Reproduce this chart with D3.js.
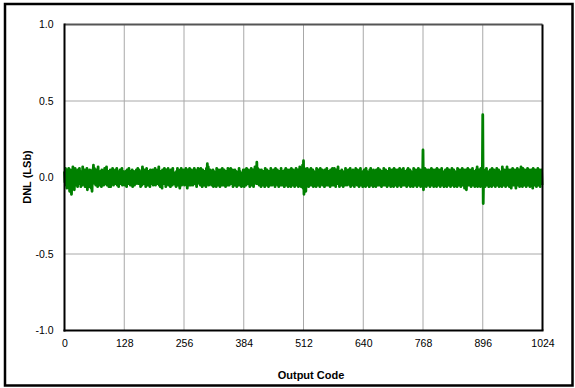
<!DOCTYPE html>
<html><head><meta charset="utf-8">
<script src="https://cdn.jsdelivr.net/npm/d3@7"></script>
<style>body{margin:0;background:#fff;}svg{display:block;font-family:"Liberation Sans",Arial,sans-serif;}</style>
</head><body>
<svg id="c" width="575" height="388"></svg>
<script>
const xTicks = [0,128,256,384,512,640,768,896,1024];
const yTicks = [-1.0,-0.5,0.0,0.5,1.0];
const xTitle = "Output Code";
const yTitle = "DNL (LSb)";
// DNL per output code 0..1023 (LSb)
const dnl = [
.04,-.03,.06,-.05,.02,-.07,.05,.01,-.04,.06,-.02,-.09,.03,.05,-.06,-.11,.02,-.05,.07,-.04,.05,-.08,.01,.06,-.03,-.05,.04,.02,-.06,.05,-.01,-.04,
.06,-.02,.03,-.06,.04,.01,-.05,.07,-.03,.02,-.04,.05,-.06,.03,.01,-.05,.06,-.08,.02,.04,-.03,-.06,.05,-.02,.03,-.07,.04,-.09,.05,.02,.08,-.03,
.06,-.04,.02,-.05,.05,-.01,.03,-.06,.07,-.04,.01,.03,-.05,.04,-.02,-.06,.05,.02,-.03,.04,-.05,.01,.06,-.04,.02,-.03,.07,-.05,.03,-.02,.04,-.06,
.02,-.03,.05,-.06,.04,.01,-.04,.06,-.03,-.05,.03,.02,-.04,.05,-.02,-.03,.06,-.05,.02,.03,-.06,.04,-.01,.05,-.04,.02,-.03,.06,-.05,.01,.04,-.03,
.03,-.05,.02,.04,-.03,-.06,.05,-.01,.03,-.04,.06,-.02,.01,-.05,.04,.02,-.03,.05,-.06,.03,-.01,.04,-.05,.02,.03,-.04,.05,-.02,-.03,.06,-.04,.02,
.05,-.03,.04,-.06,.01,.03,-.05,.07,-.02,.02,-.04,.05,-.03,.01,-.06,.04,.06,-.03,.02,-.05,.04,-.02,.03,-.06,.05,.01,-.04,.03,-.02,.05,-.05,.02,
.04,-.02,.06,-.05,.03,.01,-.04,.05,-.03,-.02,.07,-.05,.02,-.06,.04,.02,-.03,-.07,.05,-.01,.03,-.04,.06,-.03,.02,-.06,.05,.01,-.04,.03,.06,-.05,
.03,.01,-.04,-.06,.05,-.02,.04,-.05,.06,-.03,.01,-.04,.03,.02,-.05,-.06,.04,-.01,.06,-.05,.02,.03,-.04,-.07,.05,-.02,.06,-.05,.03,.01,-.04,.05,
.04,-.05,.02,-.02,.06,-.04,.01,-.07,.05,-.03,.03,-.05,.06,.02,-.04,-.05,.05,-.01,.04,-.05,.02,-.03,.06,-.04,.05,.01,-.03,-.06,.03,-.04,.06,-.02,
.05,-.03,.02,-.05,.06,.01,-.04,-.06,.05,-.02,.03,-.05,.04,.02,-.03,-.06,.06,-.04,.09,-.03,.07,-.05,.03,-.04,.05,.01,-.03,-.05,.04,-.02,.05,-.06,
.04,.01,-.04,-.05,.03,-.06,.06,-.02,.04,-.05,.05,.01,-.03,-.06,.05,-.02,.04,-.05,.06,-.03,.01,-.05,.05,-.02,.03,-.06,.04,.02,-.03,-.05,.06,-.01,
.05,-.05,.03,-.02,.06,-.04,.01,-.03,.05,-.06,.03,.02,-.04,.05,-.05,.01,.04,-.06,.03,-.02,.02,-.05,.06,-.03,.04,-.05,.03,-.06,.02,.01,-.04,.05,
.03,-.06,.05,-.02,.01,-.05,.06,-.03,.04,-.04,.05,.01,-.03,-.06,.04,-.02,.06,-.05,.03,-.02,.05,-.06,.04,-.03,.07,-.02,.05,-.04,.10,-.04,.06,-.03,
.04,-.05,.05,-.02,.01,-.06,.05,-.03,.03,-.05,.04,.02,-.04,-.06,.06,-.02,.03,-.05,.05,.01,-.03,-.06,.04,-.02,.02,-.05,.06,-.03,.03,-.05,.04,.01,
.05,-.04,.03,-.06,.06,-.03,.01,-.04,.05,-.05,.02,-.06,.04,.01,-.03,-.05,.06,-.02,.03,-.05,.04,.01,-.04,-.06,.05,-.03,.06,-.05,.02,-.02,.05,-.06,
.04,-.02,.05,-.05,.01,-.06,.06,-.03,.03,-.05,.05,.02,-.03,-.06,.04,-.02,.06,-.05,.03,-.01,.05,-.06,.04,-.03,.07,-.05,.04,-.06,.05,-.02,.08,-.07,
.11,-.11,.06,-.04,.03,-.09,.05,-.02,.06,-.05,.02,-.06,.05,.01,-.03,-.05,.06,-.03,.02,-.05,.05,-.06,.04,.01,-.03,-.05,.03,-.06,.06,-.02,.04,-.05,
.05,-.03,.02,-.06,.06,-.04,.01,-.03,.05,-.05,.03,.02,-.04,-.06,.05,-.02,.04,-.05,.06,.01,-.03,-.05,.04,-.03,.02,-.06,.05,-.02,.04,-.05,.06,-.01,
.03,-.05,.06,-.02,.01,-.06,.05,-.03,.04,-.04,.07,-.03,.02,-.06,.04,.01,-.03,-.05,.05,-.02,.04,-.06,.03,.02,-.04,-.05,.06,-.03,.03,-.05,.04,-.02,
.05,-.04,.02,-.05,.06,-.06,.03,.01,-.04,-.05,.05,-.03,.04,-.06,.02,.01,.06,-.04,.03,-.05,.05,-.02,.01,-.06,.04,-.03,.06,-.05,.02,.01,-.04,-.06,
.04,-.02,.05,-.05,.01,-.06,.06,-.03,.04,-.05,.03,.02,-.04,-.06,.05,-.02,.06,-.05,.03,.01,-.03,-.06,.05,-.02,.04,-.05,.02,-.06,.05,-.03,.03,-.05,
.06,-.03,.02,-.05,.05,.01,-.03,-.06,.04,-.02,.03,-.05,.06,-.03,.01,-.05,.05,-.04,.02,-.06,.04,.01,-.03,-.05,.06,-.02,.05,-.06,.03,-.04,.05,-.05,
.02,-.06,.06,-.03,.04,-.05,.05,.01,-.03,-.06,.05,-.02,.03,-.05,.06,-.01,.04,-.06,.05,-.03,.01,-.05,.06,-.02,.03,-.05,.04,.02,-.03,-.06,.05,-.03,
.06,-.05,.03,-.01,.05,-.06,.04,-.02,.03,-.05,.02,-.06,.06,-.03,.04,-.05,.05,.01,-.03,-.06,.05,-.02,.06,-.05,.03,-.01,.05,-.06,.04,-.03,.05,-.04,
.18,-.08,.04,-.05,.06,-.03,.02,-.06,.05,-.02,.03,-.05,.05,.01,-.03,-.06,.05,-.03,.06,-.05,.02,-.03,.05,-.06,.04,-.02,.05,-.05,.02,-.06,.06,-.03,
.04,-.05,.05,-.02,.01,-.06,.05,-.03,.06,-.05,.03,.01,-.04,-.06,.04,-.02,.05,-.05,.02,-.06,.06,-.03,.03,-.05,.05,-.02,.02,-.06,.04,-.03,.06,-.05,
.03,-.02,.05,-.06,.04,.01,-.03,-.05,.02,-.06,.06,-.03,.04,-.05,.05,-.02,.01,-.06,.05,-.03,.06,-.05,.03,-.01,.05,-.07,.04,-.03,.05,-.08,.02,-.05,
.06,-.03,.04,-.05,.05,-.02,.01,-.06,.05,-.03,.06,-.05,.03,-.01,.04,-.06,.03,-.02,.05,-.05,.07,-.06,.04,-.03,.05,-.05,.02,-.06,.06,-.03,.04,-.05,
.41,-.17,.05,-.03,.02,-.06,.05,-.02,.06,-.05,.03,.01,-.04,-.06,.04,-.02,.05,-.05,.02,-.06,.06,-.03,.03,-.05,.05,-.02,.02,-.06,.04,-.03,.06,-.05,
.03,-.02,.05,-.06,.04,.01,-.03,-.05,.02,-.06,.07,-.03,.04,-.05,.05,-.02,.01,-.06,.05,-.03,.07,-.05,.03,-.01,.05,-.06,.04,-.03,.05,-.07,.02,-.05,
.06,-.03,.04,-.05,.05,-.02,.01,-.07,.05,-.03,.06,-.05,.03,-.01,.05,-.06,.03,-.02,.07,-.05,.02,-.06,.06,-.03,.04,-.05,.05,-.02,.02,-.06,.05,-.03,
.06,-.05,.03,-.01,.05,-.06,.04,-.02,.05,-.05,.02,-.07,.06,-.03,.04,-.05,.05,-.02,.03,-.06,.05,-.03,.06,-.05,.04,-.01,.05,-.06,.04,-.03,.05,-.05
];

const svg = d3.select("#c");
const L = 64.5, R = 542.5, T = 24.5, B = 330.5;
const x = d3.scaleLinear().domain([0,1024]).range([L,R]);
const y = d3.scaleLinear().domain([-1,1]).range([B,T]);

// outer border
svg.append("rect").attr("x",5).attr("y",4).attr("width",567.5).attr("height",381.5)
  .attr("fill","none").attr("stroke","#000").attr("stroke-width",2.5);

// grid
const g = svg.append("g");
g.selectAll(".gx").data(xTicks.slice(1,-1)).enter().append("line")
  .attr("x1",d=>x(d)).attr("x2",d=>x(d)).attr("y1",T).attr("y2",B)
  .attr("stroke","#a8a8a8").attr("stroke-width",1);
g.selectAll(".gy").data(yTicks.slice(1,-1)).enter().append("line")
  .attr("x1",L).attr("x2",R).attr("y1",d=>y(d)).attr("y2",d=>y(d))
  .attr("stroke","#a8a8a8").attr("stroke-width",1);

// data line
const line = d3.line().x((d,i)=>x(i)).y(d=>y(d));
svg.append("path").datum(dnl).attr("d",line).attr("fill","none")
  .attr("stroke","#008000").attr("stroke-width",2.8).attr("stroke-linejoin","round");

// frame
svg.append("line").attr("x1",L).attr("x2",R).attr("y1",T).attr("y2",T).attr("stroke","#555").attr("stroke-width",1.8);
svg.append("line").attr("x1",R).attr("x2",R).attr("y1",T).attr("y2",B).attr("stroke","#000").attr("stroke-width",2);
svg.append("line").attr("x1",L).attr("x2",L).attr("y1",T-1).attr("y2",B+1).attr("stroke","#000").attr("stroke-width",2);
svg.append("line").attr("x1",L-1).attr("x2",R+1).attr("y1",B).attr("y2",B).attr("stroke","#000").attr("stroke-width",2);

// axes labels
const yAxis = d3.axisLeft(y).tickValues(yTicks).tickFormat(d=>d.toFixed(1)).tickSize(0).tickPadding(11);
const ya = svg.append("g").attr("transform",`translate(${L},0)`).call(yAxis);
ya.select(".domain").remove();
ya.selectAll("text").attr("font-size","10.5px").attr("font-family","Liberation Sans, Arial, sans-serif").attr("fill","#000");

const xAxis = d3.axisBottom(x).tickValues(xTicks).tickFormat(d=>String(d)).tickSize(0).tickPadding(9);
const xa = svg.append("g").attr("transform",`translate(0,${B})`).call(xAxis);
xa.select(".domain").remove();
xa.selectAll("text").attr("font-size","10.5px").attr("font-family","Liberation Sans, Arial, sans-serif").attr("fill","#000");

svg.append("text").attr("x",311).attr("y",379).attr("text-anchor","middle")
  .attr("font-size","11px").attr("font-weight","bold").text(xTitle);
svg.append("text").attr("transform","translate(31,177) rotate(-90)").attr("text-anchor","middle")
  .attr("font-size","11px").attr("font-weight","bold").text(yTitle);
</script>
</body></html>
